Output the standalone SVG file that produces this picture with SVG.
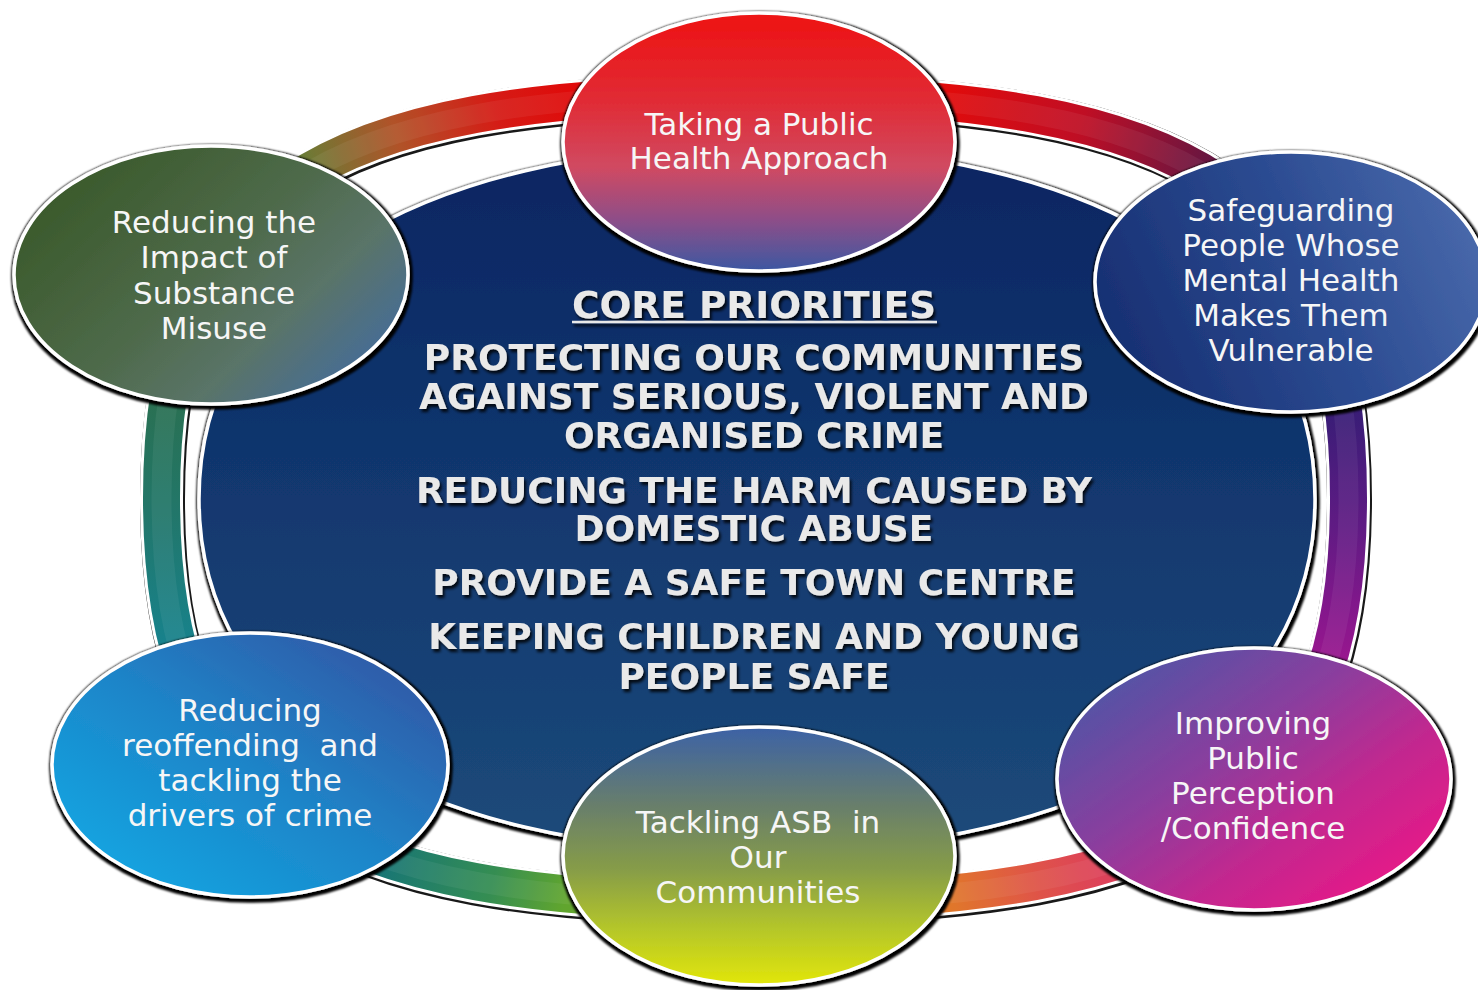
<svg xmlns="http://www.w3.org/2000/svg" width="1478" height="990" viewBox="0 0 1478 990">
  <style>
    .node-text { font-family: "DejaVu Sans", Verdana, sans-serif; font-size: 31px; fill: #f6f6f6; text-anchor: middle; white-space: pre; }
    .core-text { font-family: "DejaVu Sans", Verdana, sans-serif; font-weight: bold; font-size: 36px; fill: #e9e9e9; text-anchor: middle; }
    .node-shape { stroke: #ffffff; stroke-width: 3.5; }
  </style>
  <defs>
    <!-- dark rim shadow around shapes -->
    <filter id="rim" x="-10%" y="-10%" width="120%" height="120%">
      <feMorphology in="SourceAlpha" operator="dilate" radius="1.8" result="grow"/>
      <feOffset in="grow" dx="1" dy="1.5" result="off"/>
      <feGaussianBlur in="off" stdDeviation="0.8" result="blur"/>
      <feMerge><feMergeNode in="blur"/><feMergeNode in="SourceGraphic"/></feMerge>
    </filter>
    <!-- embossed shadow under the priority text -->
    <filter id="textShadow" x="-5%" y="-20%" width="110%" height="150%">
      <feGaussianBlur in="SourceAlpha" stdDeviation="1.4" result="b"/>
      <feOffset in="b" dx="2" dy="2.5" result="o"/>
      <feComponentTransfer in="o" result="s"><feFuncA type="linear" slope="0.85"/></feComponentTransfer>
      <feMerge><feMergeNode in="s"/><feMergeNode in="SourceGraphic"/></feMerge>
    </filter>

    <!-- ring path (squircle centre line) -->
    <path id="ringPath" d="M 1348.5,498 C 1348.5,801.4 1199.2,902 755,902 C 310.8,902 161.5,801.4 161.5,498 C 161.5,194.6 310.8,94 755,94 C 1199.2,94 1348.5,194.6 1348.5,498 Z"/>

    <!-- sectors used to colour the ring -->
    <clipPath id="sec1"><polygon points="755,498 -877,-174 -877,-1500 759,-1500"/></clipPath>
    <clipPath id="sec2"><polygon points="755,498 759,-1500 2363,-1500 2363,-150"/></clipPath>
    <clipPath id="sec3"><polygon points="755,498 2363,-150 2252,1341"/></clipPath>
    <clipPath id="sec4"><polygon points="755,498 2252,1341 2252,2000 767,2000"/></clipPath>
    <clipPath id="sec5"><polygon points="755,498 767,2000 -760,2000 -760,1299"/></clipPath>
    <clipPath id="sec6"><polygon points="755,498 -760,1299 -877,-174"/></clipPath>

    <linearGradient id="ring1" gradientUnits="userSpaceOnUse" x1="300" y1="170" x2="580" y2="85">
      <stop offset="0" stop-color="#6f8a3c"/><stop offset="0.35" stop-color="#c05a2c"/><stop offset="0.7" stop-color="#e81e18"/><stop offset="1" stop-color="#f40a0a"/>
    </linearGradient>
    <linearGradient id="ring2" gradientUnits="userSpaceOnUse" x1="950" y1="85" x2="1210" y2="170">
      <stop offset="0" stop-color="#f40d0d"/><stop offset="0.5" stop-color="#d01028"/><stop offset="1" stop-color="#6e1848"/>
    </linearGradient>
    <linearGradient id="ring3" gradientUnits="userSpaceOnUse" x1="1345" y1="400" x2="1340" y2="660">
      <stop offset="0" stop-color="#3a2080"/><stop offset="0.5" stop-color="#6a1e90"/><stop offset="1" stop-color="#a6189c"/>
    </linearGradient>
    <linearGradient id="ring4" gradientUnits="userSpaceOnUse" x1="950" y1="905" x2="1100" y2="870">
      <stop offset="0" stop-color="#f4822e"/><stop offset="0.6" stop-color="#f25a50"/><stop offset="1" stop-color="#f04862"/>
    </linearGradient>
    <linearGradient id="ring5" gradientUnits="userSpaceOnUse" x1="565" y1="905" x2="380" y2="860">
      <stop offset="0" stop-color="#6ab432"/><stop offset="0.4" stop-color="#3a9a5a"/><stop offset="1" stop-color="#1a8080"/>
    </linearGradient>
    <linearGradient id="ring6" gradientUnits="userSpaceOnUse" x1="160" y1="650" x2="165" y2="400">
      <stop offset="0" stop-color="#1a8e9a"/><stop offset="0.6" stop-color="#268070"/><stop offset="1" stop-color="#2e7a5a"/>
    </linearGradient>

    <linearGradient id="coreFill" x1="0" y1="0" x2="0" y2="1">
      <stop offset="0" stop-color="#0a2562"/><stop offset="0.5" stop-color="#12386f"/><stop offset="1" stop-color="#1c4a7a"/>
    </linearGradient>

    <linearGradient id="gTop" x1="0" y1="0" x2="0" y2="1">
      <stop offset="0" stop-color="#ee1212"/><stop offset="0.35" stop-color="#e02c36"/><stop offset="0.6" stop-color="#d04a62"/><stop offset="0.8" stop-color="#8e4e88"/><stop offset="1" stop-color="#3c58a2"/>
    </linearGradient>
    <linearGradient id="gUL" x1="0.1" y1="0.2" x2="0.95" y2="0.8">
      <stop offset="0" stop-color="#3b5a2c"/><stop offset="0.45" stop-color="#4e6a4a"/><stop offset="0.72" stop-color="#5a7468"/><stop offset="1" stop-color="#466c98"/>
    </linearGradient>
    <linearGradient id="gUR" x1="0" y1="0.6" x2="1" y2="0.3">
      <stop offset="0" stop-color="#172f72"/><stop offset="0.55" stop-color="#2c4c92"/><stop offset="1" stop-color="#4a6aac"/>
    </linearGradient>
    <linearGradient id="gLL" x1="0.1" y1="0.9" x2="0.9" y2="0.1">
      <stop offset="0" stop-color="#10a6e2"/><stop offset="0.5" stop-color="#1e84c8"/><stop offset="1" stop-color="#3258a6"/>
    </linearGradient>
    <linearGradient id="gB" x1="0" y1="0" x2="0" y2="1">
      <stop offset="0" stop-color="#3c62a6"/><stop offset="0.3" stop-color="#687e6c"/><stop offset="0.55" stop-color="#869c48"/><stop offset="0.78" stop-color="#b4c62a"/><stop offset="1" stop-color="#e2e60a"/>
    </linearGradient>
    <linearGradient id="gLR" x1="0.1" y1="0.1" x2="0.9" y2="0.85">
      <stop offset="0" stop-color="#4e56a6"/><stop offset="0.4" stop-color="#8a3e9e"/><stop offset="0.7" stop-color="#c2288f"/><stop offset="1" stop-color="#e61a88"/>
    </linearGradient>
  </defs>

  <rect x="0" y="0" width="1478" height="990" fill="#ffffff"/>

  <!-- connecting ring -->
  <g id="connectors">
    <use href="#ringPath" fill="none" stroke="#000000" stroke-width="45" transform="translate(1,1.5)" opacity="0.9"/>
    <use href="#ringPath" fill="none" stroke="#ffffff" stroke-width="43"/>
    <use href="#ringPath" fill="none" stroke="url(#ring1)" stroke-width="37" clip-path="url(#sec1)"/>
    <use href="#ringPath" fill="none" stroke="url(#ring2)" stroke-width="37" clip-path="url(#sec2)"/>
    <use href="#ringPath" fill="none" stroke="url(#ring3)" stroke-width="37" clip-path="url(#sec3)"/>
    <use href="#ringPath" fill="none" stroke="url(#ring4)" stroke-width="37" clip-path="url(#sec4)"/>
    <use href="#ringPath" fill="none" stroke="url(#ring5)" stroke-width="37" clip-path="url(#sec5)"/>
    <use href="#ringPath" fill="none" stroke="url(#ring6)" stroke-width="37" clip-path="url(#sec6)"/>
    <use href="#ringPath" fill="none" stroke="#000000" stroke-opacity="0.08" stroke-width="37"/>
    <use href="#ringPath" fill="none" stroke="#ffffff" stroke-opacity="0.06" stroke-width="20"/>
  </g>

  <!-- central priorities panel -->
  <g id="core">
    <path filter="url(#rim)" fill="url(#coreFill)" stroke="#ffffff" stroke-width="3.5"
          d="M 1315,499 C 1315,715.4 1099.1,852 757,852 C 414.9,852 199,715.4 199,499 C 199,282.6 414.9,146 757,146 C 1099.1,146 1315,282.6 1315,499 Z"/>
    <g filter="url(#textShadow)">
      <text class="core-text" x="754" y="318" style="font-size:37.5px">CORE PRIORITIES</text>
      <line x1="572" y1="322" x2="937" y2="322" stroke="#e9e9e9" stroke-width="2.5"/>
      <text class="core-text" x="754" y="370">PROTECTING OUR COMMUNITIES</text>
      <text class="core-text" x="754" y="409">AGAINST SERIOUS, VIOLENT AND</text>
      <text class="core-text" x="754" y="448">ORGANISED CRIME</text>
      <text class="core-text" x="754" y="503">REDUCING THE HARM CAUSED BY</text>
      <text class="core-text" x="754" y="541">DOMESTIC ABUSE</text>
      <text class="core-text" x="754" y="595">PROVIDE A SAFE TOWN CENTRE</text>
      <text class="core-text" x="754" y="649">KEEPING CHILDREN AND YOUNG</text>
      <text class="core-text" x="754" y="689">PEOPLE SAFE</text>
    </g>
  </g>

  <g id="node-public-health">
    <ellipse class="node-shape" filter="url(#rim)" cx="759" cy="142" rx="196" ry="129" fill="url(#gTop)"/>
    <text class="node-text" x="759" y="135">Taking a Public</text>
    <text class="node-text" x="759" y="169">Health Approach</text>
  </g>

  <g id="node-substance-misuse">
    <ellipse class="node-shape" filter="url(#rim)" cx="211" cy="275" rx="197" ry="129" fill="url(#gUL)"/>
    <text class="node-text" x="214" y="233">Reducing the</text>
    <text class="node-text" x="214" y="268">Impact of</text>
    <text class="node-text" x="214" y="304">Substance</text>
    <text class="node-text" x="214" y="339">Misuse</text>
  </g>

  <g id="node-mental-health">
    <ellipse class="node-shape" filter="url(#rim)" cx="1291" cy="282" rx="196" ry="130" fill="url(#gUR)"/>
    <text class="node-text" x="1291" y="221">Safeguarding</text>
    <text class="node-text" x="1291" y="256">People Whose</text>
    <text class="node-text" x="1291" y="291">Mental Health</text>
    <text class="node-text" x="1291" y="326">Makes Them</text>
    <text class="node-text" x="1291" y="361">Vulnerable</text>
  </g>

  <g id="node-reoffending">
    <ellipse class="node-shape" filter="url(#rim)" cx="250" cy="765" rx="198" ry="132" fill="url(#gLL)"/>
    <text class="node-text" x="250" y="721">Reducing</text>
    <text class="node-text" x="250" y="756">reoffending  and</text>
    <text class="node-text" x="250" y="791">tackling the</text>
    <text class="node-text" x="250" y="826">drivers of crime</text>
  </g>

  <g id="node-asb">
    <ellipse class="node-shape" filter="url(#rim)" cx="759" cy="856" rx="196" ry="129" fill="url(#gB)"/>
    <text class="node-text" x="758" y="833">Tackling ASB  in</text>
    <text class="node-text" x="758" y="868">Our</text>
    <text class="node-text" x="758" y="903">Communities</text>
  </g>

  <g id="node-confidence">
    <ellipse class="node-shape" filter="url(#rim)" cx="1254" cy="779" rx="197" ry="131" fill="url(#gLR)"/>
    <text class="node-text" x="1253" y="734">Improving</text>
    <text class="node-text" x="1253" y="769">Public</text>
    <text class="node-text" x="1253" y="804">Perception</text>
    <text class="node-text" x="1253" y="839">/Confidence</text>
  </g>
</svg>
